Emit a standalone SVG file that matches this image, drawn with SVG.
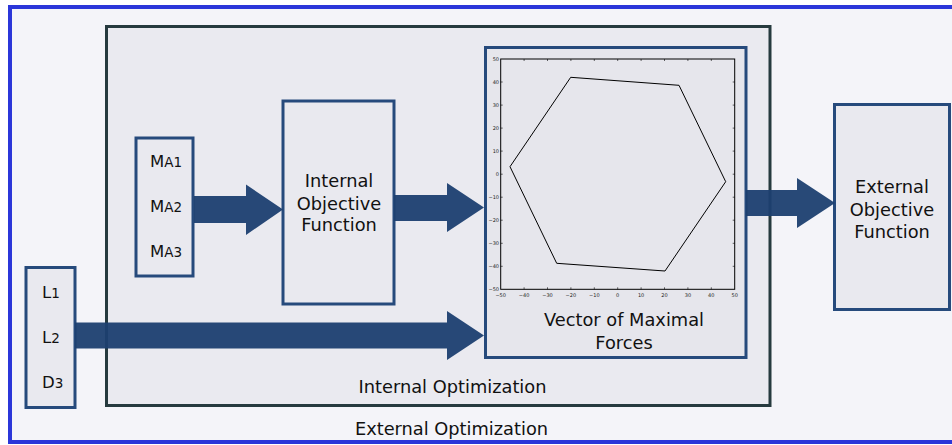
<svg xmlns="http://www.w3.org/2000/svg" width="952" height="445" viewBox="0 0 952 445">
<style>
text{font-family:"DejaVu Sans","Liberation Sans",sans-serif;fill:#111}
.lbl{font-size:17.8px;text-anchor:middle}
.box{fill:#e9e9ef;stroke:#264a7c;stroke-width:3}
.arrow{fill:#1c3f70;opacity:0.95}
.tk{font-size:5px;fill:#222}
.tick{stroke:#000;stroke-width:0.6}
</style>
<rect x="0" y="0" width="952" height="445" fill="#ffffff"/>
<g id="external-optimization">
<rect x="10" y="7" width="960" height="435" fill="#f4f4f9" stroke="#2b36d9" stroke-width="4"/>
<text class="lbl" x="451.5" y="435">External Optimization</text>
</g>
<g id="internal-optimization">
<rect x="106.5" y="26.5" width="663.5" height="379" fill="#eaeaf0" stroke="#263a3f" stroke-width="3"/>
<text class="lbl" x="452.5" y="392.5">Internal Optimization</text>
</g>
<g id="ma-inputs">
<rect class="box" x="136" y="138" width="57" height="138"/>
<text x="150" y="167" font-size="16.5">M<tspan font-size="13.5">A1</tspan></text>
<text x="150" y="212" font-size="16.5">M<tspan font-size="13.5">A2</tspan></text>
<text x="150" y="257" font-size="16.5">M<tspan font-size="13.5">A3</tspan></text>
</g>
<g id="l-inputs">
<rect class="box" x="26" y="267.5" width="49" height="140" stroke-width="2"/>
<text x="42" y="298" font-size="16.5">L<tspan font-size="13.5">1</tspan></text>
<text x="42" y="343" font-size="16.5">L<tspan font-size="13.5">2</tspan></text>
<text x="42" y="388" font-size="16.5">D<tspan font-size="13.5">3</tspan></text>
</g>
<g id="internal-objective-function">
<rect class="box" x="283" y="101" width="111" height="203"/>
<text class="lbl" x="339" y="187">Internal</text>
<text class="lbl" x="339" y="209.5">Objective</text>
<text class="lbl" x="339" y="231">Function</text>
</g>
<g id="vector-of-maximal-forces">
<rect x="485.5" y="47.5" width="260.5" height="310" fill="#e6e6ec" stroke="#264a7c" stroke-width="3"/>
<rect x="500.7" y="59" width="234" height="230.3" fill="#e6e6ec" stroke="#000" stroke-width="1"/>
<g class="tick">
<path d="M524.1 289.3v-2M547.5 289.3v-2M570.9 289.3v-2M594.3 289.3v-2M617.7 289.3v-2M641.1 289.3v-2M664.5 289.3v-2M687.9 289.3v-2M711.3 289.3v-2"/>
<path d="M524.1 59v2M547.5 59v2M570.9 59v2M594.3 59v2M617.7 59v2M641.1 59v2M664.5 59v2M687.9 59v2M711.3 59v2"/>
<path d="M500.7 82h2M500.7 105.1h2M500.7 128.1h2M500.7 151.1h2M500.7 174.2h2M500.7 197.2h2M500.7 220.2h2M500.7 243.3h2M500.7 266.3h2"/>
<path d="M734.7 82h-2M734.7 105.1h-2M734.7 128.1h-2M734.7 151.1h-2M734.7 174.2h-2M734.7 197.2h-2M734.7 220.2h-2M734.7 243.3h-2M734.7 266.3h-2"/>
</g>
<g class="tk" text-anchor="end">
<text class="tk" x="499" y="61">50</text>
<text class="tk" x="499" y="84">40</text>
<text class="tk" x="499" y="107">30</text>
<text class="tk" x="499" y="130">20</text>
<text class="tk" x="499" y="153">10</text>
<text class="tk" x="499" y="176">0</text>
<text class="tk" x="499" y="199">−10</text>
<text class="tk" x="499" y="222">−20</text>
<text class="tk" x="499" y="245">−30</text>
<text class="tk" x="499" y="268">−40</text>
<text class="tk" x="499" y="291">−50</text>
</g>
<g class="tk" text-anchor="middle">
<text class="tk" x="500.7" y="297">−50</text>
<text class="tk" x="524.1" y="297">−40</text>
<text class="tk" x="547.5" y="297">−30</text>
<text class="tk" x="570.9" y="297">−20</text>
<text class="tk" x="594.3" y="297">−10</text>
<text class="tk" x="617.7" y="297">0</text>
<text class="tk" x="641.1" y="297">10</text>
<text class="tk" x="664.5" y="297">20</text>
<text class="tk" x="687.9" y="297">30</text>
<text class="tk" x="711.3" y="297">40</text>
<text class="tk" x="734.7" y="297">50</text>
</g>
<polygon points="570.7,77.3 679,85.3 725.7,181.7 665,271 556.7,263.3 510,166.7" fill="none" stroke="#000" stroke-width="1"/>
<text class="lbl" x="624" y="326">Vector of Maximal</text>
<text class="lbl" x="624" y="349">Forces</text>
</g>
<g id="external-objective-function">
<rect class="box" x="834.5" y="104.5" width="115" height="205"/>
<text class="lbl" x="892" y="193">External</text>
<text class="lbl" x="892" y="216">Objective</text>
<text class="lbl" x="892" y="238">Function</text>
</g>
<g id="connectors">
<polygon class="arrow" points="194,196 246,196 246,184.5 283,209.5 246,235 246,223 194,223"/>
<polygon class="arrow" points="394,195 447,195 447,183 484,207.5 447,232 447,221 394,221"/>
<polygon class="arrow" points="75,322.5 447,322.5 447,311 484,335.5 447,360 447,348.5 75,348.5"/>
<polygon class="arrow" points="746,190 797,190 797,178 835,203 797,228 797,216 746,216"/>
</g>
</svg>
